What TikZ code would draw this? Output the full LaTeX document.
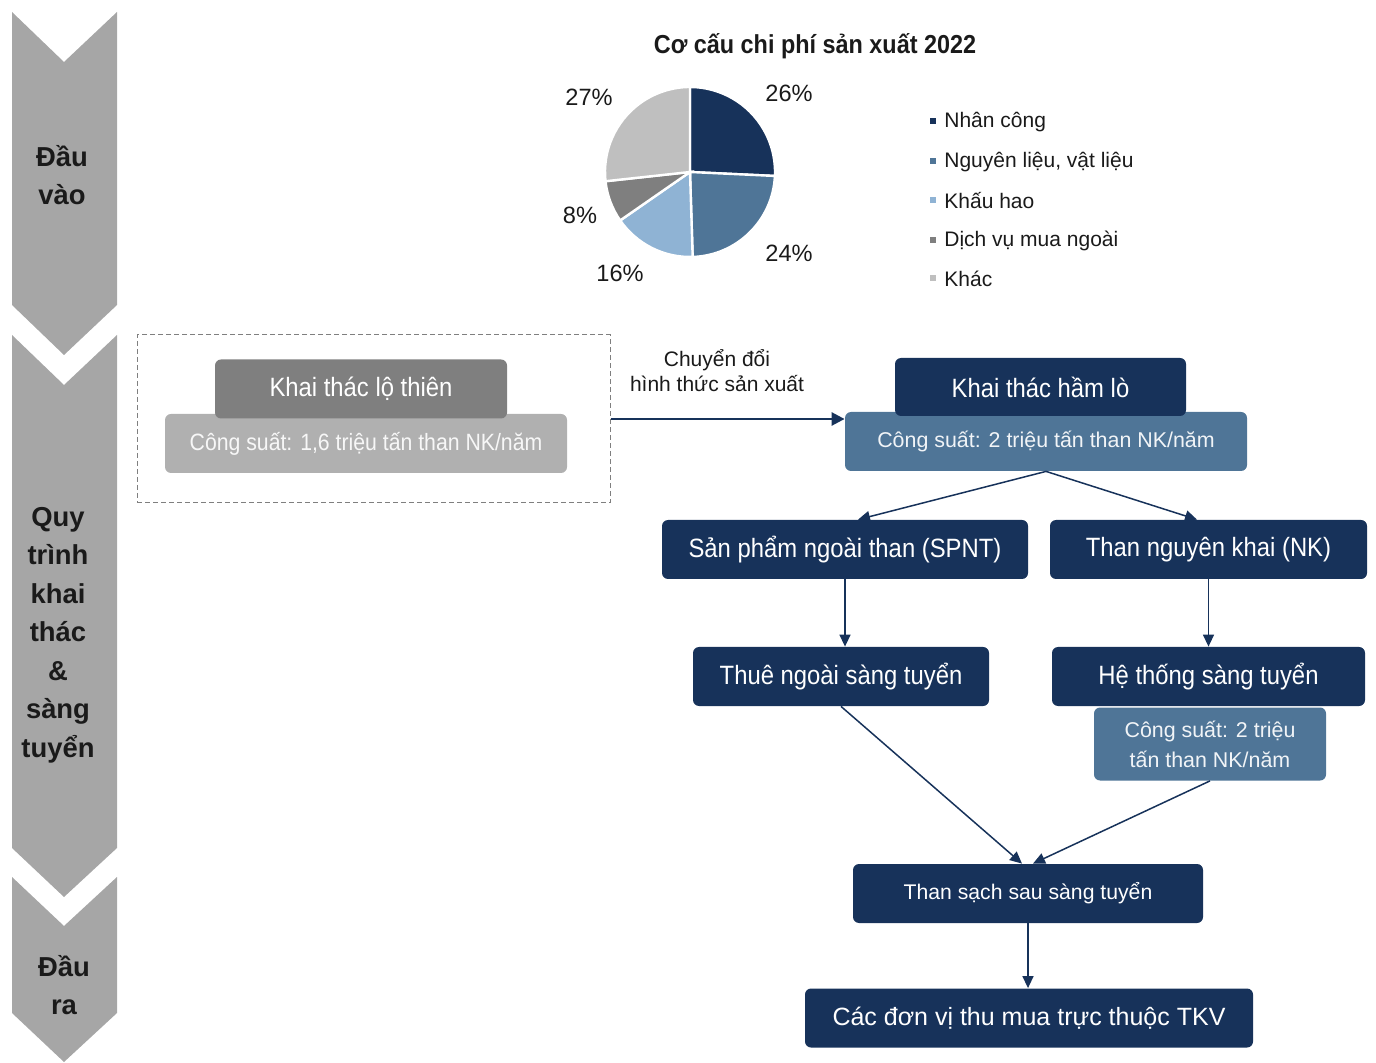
\documentclass[tikz,border=0pt]{standalone}
\usepackage{fontspec}
\setmainfont{Liberation Sans}
\newfontfamily\nar[FakeStretch=0.9]{Liberation Sans}
\usetikzlibrary{arrows.meta,positioning}
\definecolor{navy}{HTML}{17325A}
\definecolor{steel}{HTML}{4F7597}
\definecolor{lblue}{HTML}{8FB3D4}
\definecolor{dgray}{HTML}{7F7F7F}
\definecolor{lgray}{HTML}{BFBFBF}
\definecolor{chev}{HTML}{A6A6A6}
\definecolor{capgray}{HTML}{B0B0B0}
\definecolor{txtdark}{HTML}{1A1A1A}
\tikzset{
  basebox/.style={rounded corners=3pt, inner sep=0pt, align=center, text=white, minimum height=29.5pt},
  navybox/.style={basebox, fill=navy, font=\nar\fontsize{13.25}{15}\selectfont},
  steelbox/.style={basebox, fill=steel, text=white!92!steel, font=\fontsize{10.7}{15}\selectfont},
  conn/.style={draw=navy, line width=0.75pt, -{Triangle[length=6pt,width=5.5pt]}},
  chevlabel/.style={font=\bfseries\fontsize{13.7}{19.25}\selectfont, text=txtdark, align=center},
  pct/.style={font=\fontsize{11.8}{14}\selectfont, text=txtdark},
  legtext/.style={font=\fontsize{10.5}{12}\selectfont, text=txtdark, anchor=west, inner sep=0pt},
  legsq/.style={minimum size=2.6pt, inner sep=0pt},
}
\begin{document}
\begin{tikzpicture}[x=0.5pt,y=-0.5pt]
\useasboundingbox (0,0) rectangle (1376,1063);
% chevrons
\fill[chev] (12,12) -- (64,62) -- (117,12) -- (117,305) -- (64,355) -- (12,305) -- cycle;
\fill[chev] (12,335) -- (64,385) -- (117,335) -- (117,848) -- (64,897) -- (12,848) -- cycle;
\fill[chev] (12,877) -- (64,926) -- (117,877) -- (117,1013) -- (64,1062) -- (12,1013) -- cycle;
\node[chevlabel] (lab1) at (62,175) {Đầu\\vào};
\node[chevlabel] (lab2) at (58,635) {Quy\\trình\\khai\\thác\\\&\\sàng\\tuyển};
\node[chevlabel] (lab3) at (64,985) {Đầu\\ra};
% pie chart
\node[font=\nar\bfseries\fontsize{13}{15}\selectfont, text=txtdark] (title) at (815,46) {Cơ cấu chi phí sản xuất 2022};
\begin{scope}[shift={(690,172)}, x=1pt, y=1pt]
  \tikzset{slice/.style={draw=white, line width=1.2pt}}
  \filldraw[slice, fill=navy] (0,0) -- (90:42.5) arc[start angle=90, end angle=-2.67, radius=42.5] -- cycle;
  \filldraw[slice, fill=steel] (0,0) -- (-2.67:42.5) arc[start angle=-2.67, end angle=-88.2, radius=42.5] -- cycle;
  \filldraw[slice, fill=lblue] (0,0) -- (-88.2:42.5) arc[start angle=-88.2, end angle=-145.25, radius=42.5] -- cycle;
  \filldraw[slice, fill=dgray] (0,0) -- (-145.25:42.5) arc[start angle=-145.25, end angle=-173.76, radius=42.5] -- cycle;
  \filldraw[slice, fill=lgray] (0,0) -- (-173.76:42.5) arc[start angle=-173.76, end angle=-270, radius=42.5] -- cycle;
\end{scope}
\node[pct] (p26) at (789,93) {26\%};
\node[pct] (p24) at (789,253) {24\%};
\node[pct] (p16) at (620,273) {16\%};
\node[pct] (p8) at (580,215) {8\%};
\node[pct] (p27) at (589,97) {27\%};
% legend
\node[legsq, fill=navy] (s1) at (933,121) {};
\node[legsq, fill=steel] (s2) at (933,161) {};
\node[legsq, fill=lblue] (s3) at (933,200) {};
\node[legsq, fill=dgray] (s4) at (933,240) {};
\node[legsq, fill=lgray] (s5) at (933,278) {};
\node[legtext] (l1) at (944,122) {Nhân công};
\node[legtext] (l2) at (944,162) {Nguyên liệu, vật liệu};
\node[legtext] (l3) at (944,201) {Khấu hao};
\node[legtext] (l4) at (944,241) {Dịch vụ mua ngoài};
\node[legtext] (l5) at (944,279) {Khác};
% dashed box and open-pit
\node[draw=dgray, dash pattern=on 2.5pt off 1.5pt, line width=0.5pt, minimum width=236.5pt, minimum height=84pt, inner sep=0pt] (dbox) at (373.5,419) {};
\node[basebox, fill=capgray, minimum width=201pt, text=white!90!capgray, font=\nar\fontsize{11.8}{14}\selectfont] (capL) at (366,443.5) {Công suất: 1,6 triệu tấn than NK/năm};
\node[basebox, fill=dgray, minimum width=146pt, font=\nar\fontsize{13.25}{15}\selectfont] (loThien) at (361,389) {Khai thác lộ thiên};
% underground
\node[steelbox, minimum width=201pt] (capA) at (1046,441.5) {Công suất: 2 triệu tấn than NK/năm};
\node[navybox, minimum width=145.5pt, minimum height=29pt] (hamLo) at (1040.5,387) {Khai thác hầm lò};
\draw[draw=navy, line width=1.3pt, -{Triangle[length=6.5pt,width=6.5pt]}] (dbox.east) -- (dbox.east -| capA.west);
\node[font=\fontsize{10.5}{12.5}\selectfont, text=txtdark, align=center] (conv) at (717,371) {Chuyển đổi\\hình thức sản xuất};
% flow
\node[navybox, minimum width=183pt] (spnt) at (845,549.5) {Sản phẩm ngoài than (SPNT)};
\node[navybox, minimum width=158.5pt] (nk) at (1208.5,549.5) {Than nguyên khai (NK)};
\node[navybox, minimum width=148pt] (thue) at (841,676.5) {Thuê ngoài sàng tuyển};
\node[navybox, minimum width=156.5pt] (heThong) at (1208.5,676.5) {Hệ thống sàng tuyển};
\node[steelbox, minimum width=116pt, minimum height=36.5pt, font=\fontsize{10.7}{15}\selectfont] (cap2) at (1210,744) {Công suất: 2 triệu\\tấn than NK/năm};
\node[navybox, minimum width=175pt, font=\fontsize{10.6}{13}\selectfont] (sach) at (1028,893.5) {Than sạch sau sàng tuyển};
\node[navybox, minimum width=224pt, font=\fontsize{12.5}{15}\selectfont] (donVi) at (1029,1018) {Các đơn vị thu mua trực thuộc TKV};
\draw[conn] (capA.south) -- ([xshift=6.5pt]spnt.north);
\draw[conn] (capA.south) -- ([xshift=-5.75pt]nk.north);
\draw[conn] (spnt.south) -- (spnt.south |- thue.north);
\draw[conn] (nk.south) -- (nk.south |- heThong.north);
\draw[conn] (thue.south) -- ([xshift=-3pt]sach.north);
\draw[conn] (cap2.south) -- ([xshift=2.5pt]sach.north);
\draw[conn] (sach.south) -- (sach.south |- donVi.north);
\end{tikzpicture}
\end{document}
